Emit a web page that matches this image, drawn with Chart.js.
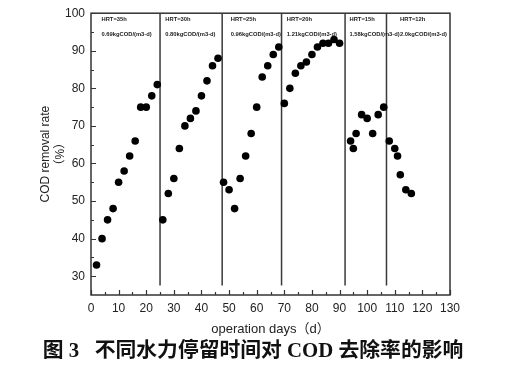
<!DOCTYPE html>
<html><head><meta charset="utf-8">
<script src="https://cdn.jsdelivr.net/npm/chart.js@4.4.1/dist/chart.umd.min.js"></script>
<style>html,body{margin:0;padding:0;background:#fff;}#wrap{width:506px;height:365px;}</style>
</head><body><div id="wrap"><canvas id="c" width="506" height="365"></canvas></div>
<script>
// ---- data ----
const days1 = [2,4,6,8,10,12,14,16,18,20,22,24];
const rate1 = [33,40,45,48,55,58,62,66,75,75,78,81];
const days2 = [26,28,30,32,34,36,38,40,42,44,46];
const rate2 = [45,52,56,64,70,72,74,78,82,86,88];
const days3 = [48,50,52,54,56,58,60,62,64,66,68];
const rate3 = [55,53,48,56,62,68,75,83,86,89,91];
const days4 = [70,72,74,76,78,80,82,84,86,88,90];
const rate4 = [76,80,84,86,87,89,91,92,92,93,92];
const days5 = [94,95,96,98,100,102,104,106];
const rate5 = [66,64,68,73,72,68,73,75];
const days6 = [108,110,111,112,114,116];
const rate6 = [66,64,62,57,53,52];
const hrtLabels  = ['HRT=35h','HRT=30h','HRT=25h','HRT=20h','HRT=15h','HRT=12h'];
const loadLabels = ['0.69kgCOD/(m3·d)','0.80kgCOD/(m3·d)','0.96kgCOD/(m3·d)','1.21kgCOD/(m3·d)','1.58kgCOD/(m3·d)','2.0kgCOD/(m3·d)'];
const boundaryDays = [25, 47.5, 69, 92, 107];
const xTickValues = [0,10,20,30,40,50,60,70,80,90,100,110,120,130];
const yTickValues = [30,40,50,60,70,80,90,100];
const xTitle = 'operation days（d）';
const yTitle = ['COD removal rate', '（%）'];
const caption = '图 3   不同水力停留时间对 COD 去除率的影响';

// ---- layout / style (not data) ----
const labelAnchorDays = [3.8, 26.9, 50.6, 70.9, 93.6, 111.9];
const boundaryBottom = 27.5;
const AX = '#333';

const phases = [[days1,rate1],[days2,rate2],[days3,rate3],[days4,rate4],[days5,rate5],[days6,rate6]];
const datasets = phases.map(([d,r]) => ({
  type: 'scatter',
  data: d.map((x,i) => ({x, y: r[i]})),
  backgroundColor: '#000', borderColor: '#000',
  pointRadius: 3.8, pointHoverRadius: 3.8, borderWidth: 0
}));
boundaryDays.forEach(b => datasets.push({
  type: 'line',
  data: [{x:b, y:boundaryBottom},{x:b, y:100}],
  borderColor: '#3a3a3a', borderWidth: 1.5, pointRadius: 0, fill: false
}));

const decor = {
  id: 'decor',
  afterDraw(chart) {
    const {ctx, chartArea: a, scales: {x, y}} = chart;
    ctx.save();
    // frame
    ctx.strokeStyle = AX; ctx.lineWidth = 1.5;
    ctx.strokeRect(a.left, a.top, a.right - a.left, a.bottom - a.top);
    // inside ticks
    ctx.lineWidth = 1.2;
    ctx.beginPath();
    for (let v = x.min; v <= x.max; v += 5) {
      const px = Math.round(x.getPixelForValue(v)) + 0.5;
      const len = v % 10 === 0 ? 5 : 3;
      ctx.moveTo(px, a.bottom); ctx.lineTo(px, a.bottom - len);
    }
    for (let v = 30; v <= y.max; v += 5) {
      const py = Math.round(y.getPixelForValue(v)) + 0.5;
      const len = v % 10 === 0 ? 5 : 3;
      ctx.moveTo(a.left, py); ctx.lineTo(a.left + len, py);
    }
    ctx.stroke();
    // section annotations
    ctx.fillStyle = '#222';
    ctx.font = 'bold 5.8px "Liberation Sans", Arial, sans-serif';
    ctx.textBaseline = 'middle'; ctx.textAlign = 'left';
    labelAnchorDays.forEach((d, i) => {
      const px = x.getPixelForValue(d);
      ctx.fillText(hrtLabels[i], px, a.top + 6.5);
      ctx.fillText(loadLabels[i], px, a.top + 21.5);
    });
    // caption
    ctx.fillStyle = '#111';
    ctx.font = 'bold 20.8px "Liberation Serif", "Noto Sans CJK SC", serif';
    ctx.textAlign = 'center';
    ctx.fillText(caption, 253, 352);
    ctx.restore();
  }
};

new Chart(document.getElementById('c'), {
  data: { datasets },
  options: {
    responsive: false, animation: false, devicePixelRatio: 1,
    layout: { padding: { left: 0, right: 56, top: 9, bottom: 28 } },
    plugins: { legend: { display: false }, tooltip: { enabled: false } },
    scales: {
      x: {
        type: 'linear', position: 'bottom', min: 0, max: 130,
        grid: { display: false, drawTicks: false }, border: { display: false },
        afterBuildTicks: s => { s.ticks = xTickValues.map(v => ({value: v})); },
        afterFit: s => { s.height = 42; },
        ticks: { color: '#222', padding: 6, maxRotation: 0, autoSkip: false,
                 font: { family: '"Liberation Sans", Arial, sans-serif', size: 12 } },
        title: { display: true, text: xTitle, color: '#222',
                 font: { family: '"Liberation Sans", Arial, "Noto Sans CJK SC", sans-serif', size: 13 },
                 padding: { top: 0, bottom: 0 } }
      },
      y: {
        type: 'linear', min: 25, max: 100,
        grid: { display: false, drawTicks: false }, border: { display: false },
        afterBuildTicks: s => { s.ticks = yTickValues.map(v => ({value: v})); },
        afterFit: s => { s.width = 91; },
        ticks: { color: '#222', padding: 6,
                 font: { family: '"Liberation Sans", Arial, sans-serif', size: 12 } },
        title: { display: true, text: yTitle, color: '#222',
                 font: { family: '"Liberation Sans", Arial, "Noto Sans CJK SC", sans-serif', size: 12, lineHeight: 1.25 },
                 padding: { top: 38 } }
      }
    }
  },
  plugins: [decor]
});
</script></body></html>
